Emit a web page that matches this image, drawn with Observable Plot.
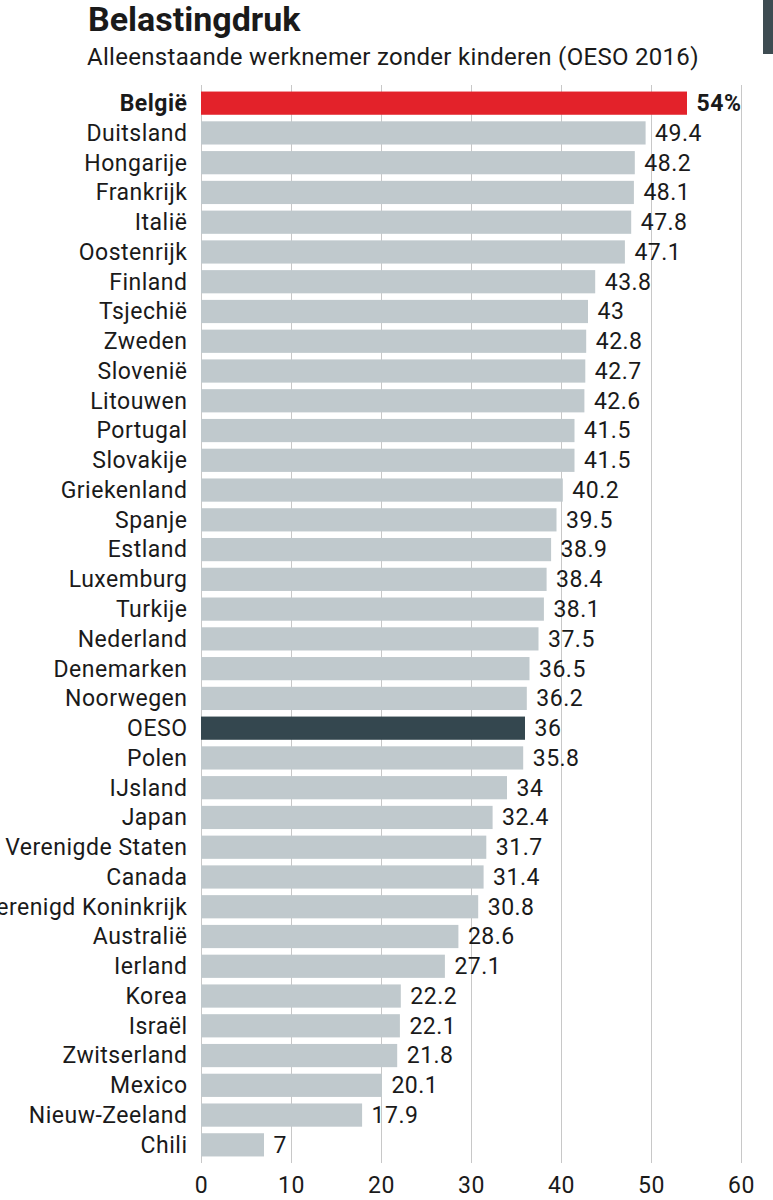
<!DOCTYPE html>
<html>
<head>
<meta charset="utf-8">
<script src="https://cdn.jsdelivr.net/npm/d3@7"></script>
<script src="https://cdn.jsdelivr.net/npm/@observablehq/plot@0.6"></script>
<style>
  html, body { margin: 0; padding: 0; background: #fff; }
  body { width: 773px; height: 1200px; overflow: hidden; position: relative; font-family: Roboto, "Open Sans", sans-serif; color: #1a1a1a; }
  #title { position: absolute; left: 88px; top: 1px; font-size: 34px; font-weight: 700; letter-spacing: 0px; line-height: 1.1; }
  #subtitle { position: absolute; left: 87px; top: 43px; font-size: 24px; font-weight: 400; letter-spacing: 0.3px; line-height: 1.2; }
  #chart { position: absolute; left: 0; top: 75px; }
  #chart text { letter-spacing: 0.5px; }
  #tab { position: absolute; left: 763px; top: 0; width: 10px; height: 54px; background: #3e4c52; }
</style>
</head>
<body>
<div id="title">Belastingdruk</div>
<div id="subtitle">Alleenstaande werknemer zonder kinderen (OESO 2016)</div>
<div id="tab"></div>
<div id="chart"></div>
<script>
const countries = ["België","Duitsland","Hongarije","Frankrijk","Italië","Oostenrijk","Finland","Tsjechië","Zweden","Slovenië","Litouwen","Portugal","Slovakije","Griekenland","Spanje","Estland","Luxemburg","Turkije","Nederland","Denemarken","Noorwegen","OESO","Polen","IJsland","Japan","Verenigde Staten","Canada","Verenigd Koninkrijk","Australië","Ierland","Korea","Israël","Zwitserland","Mexico","Nieuw-Zeeland","Chili"];
const values = [54,49.4,48.2,48.1,47.8,47.1,43.8,43,42.8,42.7,42.6,41.5,41.5,40.2,39.5,38.9,38.4,38.1,37.5,36.5,36.2,36,35.8,34,32.4,31.7,31.4,30.8,28.6,27.1,22.2,22.1,21.8,20.1,17.9,7];
const xTicks = [0,10,20,30,40,50,60];
const highlight = "België";
const average = "OESO";

const data = countries.map((c, i) => ({
  country: c,
  value: values[i],
  label: c === highlight ? values[i] + "%" : String(values[i]),
  kind: c === highlight ? "hl" : c === average ? "avg" : "other"
}));
const hlData = data.filter(d => d.kind === "hl");
const restData = data.filter(d => d.kind !== "hl");

const font = 23;
const chart = Plot.plot({
  width: 773,
  height: 1125,
  marginLeft: 201,
  marginRight: 32,
  marginTop: 10,
  marginBottom: 37,
  style: { fontFamily: "Roboto, 'Open Sans', sans-serif", background: "transparent", color: "#1a1a1a" },
  x: { domain: [0, 60], ticks: xTicks, label: null },
  y: { domain: countries, padding: 0.22, round: false, label: null, axis: null },
  color: { domain: ["hl", "avg", "other"], range: ["#e3222a", "#34474f", "#c0c9cd"] },
  marks: [
    Plot.ruleX(xTicks, { stroke: "#c8c8c8", strokeWidth: 1 }),
    Plot.barX(data, { x: "value", y: "country", fill: "kind" }),
    Plot.text(restData, {
      x: 0, y: "country", text: "country", textAnchor: "end", dx: -14,
      fontSize: font, fill: "#1a1a1a", fontWeight: 400
    }),
    Plot.text(hlData, {
      x: 0, y: "country", text: "country", textAnchor: "end", dx: -14,
      fontSize: font, fill: "#1a1a1a", fontWeight: 700
    }),
    Plot.text(restData, {
      x: "value", y: "country", text: "label", textAnchor: "start", dx: 9,
      fontSize: font, fill: "#1a1a1a", fontWeight: 400
    }),
    Plot.text(hlData, {
      x: "value", y: "country", text: "label", textAnchor: "start", dx: 9,
      fontSize: font, fill: "#1a1a1a", fontWeight: 700
    }),
    Plot.axisX({ ticks: xTicks, tickSize: 0, tickPadding: 13, fontSize: font, label: null, fill: "#1a1a1a" })
  ]
});
document.getElementById("chart").appendChild(chart);
</script>
</body>
</html>
